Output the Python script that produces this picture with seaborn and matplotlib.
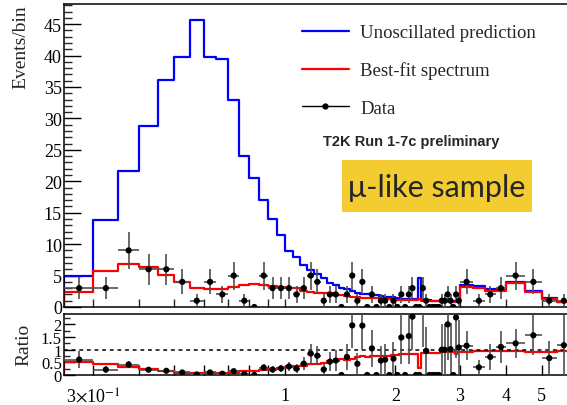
import numpy as np
import pandas as pd
import matplotlib
matplotlib.use("Agg")
import matplotlib.pyplot as plt
import seaborn as sns
from matplotlib.lines import Line2D
from matplotlib.patches import Rectangle
from matplotlib.ticker import FixedLocator, FixedFormatter, NullFormatter, MultipleLocator

# Reconstructed neutrino energy bin edges (GeV)
edges = [0.25, 0.30, 0.35, 0.40, 0.45, 0.50, 0.55, 0.60, 0.65, 0.70, 0.75,
         0.80, 0.85, 0.90, 0.95, 1.00, 1.05, 1.10, 1.15, 1.20, 1.25, 1.30,
         1.35, 1.40, 1.45, 1.50, 1.55, 1.60, 1.65, 1.70, 1.75, 1.80, 1.85,
         1.90, 1.95, 2.00, 2.05, 2.10, 2.15, 2.20, 2.25, 2.30, 2.35, 2.40,
         2.45, 2.50, 2.55, 2.60, 2.65, 2.70, 2.75, 2.80, 2.85, 2.90, 2.95,
         3.00, 3.25, 3.50, 3.75, 4.00, 4.50, 5.00, 5.50, 6.00]

# Unoscillated prediction (events / bin)
unoscillated = [4.9, 13.9, 21.7, 28.8, 36.1, 39.7, 45.6, 39.7, 39.4, 33.0,
                24.0, 20.5, 17.0, 14.0, 11.5, 8.9, 8.0, 6.7, 5.9, 5.25,
                4.6, 3.8, 3.5, 3.1, 2.8, 2.55, 2.25, 2.05, 2.0, 1.9,
                1.85, 1.75, 1.65, 1.6, 1.55, 1.45, 1.35, 1.32, 1.3, 1.3,
                1.25, 4.6, 1.15, 1.05, 1.05, 1.0, 1.0, 1.0, 1.0, 1.0,
                1.0, 0.98, 0.95, 0.88, 0.92,
                3.45, 3.3, 2.8, 2.7, 4.0, 2.55, 1.5, 0.85]

# Best-fit oscillated spectrum (events / bin)
best_fit = [2.45, 5.8, 6.9, 6.4, 5.15, 3.9, 3.0, 2.8, 2.9, 3.2,
            3.5, 3.6, 3.5, 3.3, 3.15, 2.95, 2.95, 2.5, 2.45, 2.25,
            2.2, 2.15, 1.95, 1.9, 1.7, 1.65, 1.6, 1.5, 1.45, 1.4,
            1.38, 1.32, 1.26, 1.22, 1.2, 1.14, 1.12, 1.1, 1.08, 1.08,
            1.04, 1.3, 1.0, 0.98, 0.92, 0.88, 0.88, 0.88, 0.9, 0.9,
            0.9, 0.88, 0.86, 0.74, 0.84,
            3.2, 3.1, 2.6, 2.55, 3.8, 2.35, 1.35, 0.8]

# Observed events per bin
observed = [3, 3, 9, 6, 6, 4, 1, 4, 2, 5,
            1, 0, 5, 3, 3, 3, 2, 3, 5, 4,
            1, 2, 2, 0, 2, 5, 1, 4, 0, 2,
            0, 1, 1, 0, 1, 0, 2, 0, 2, 3,
            0, 0, 3, 1, 0, 0, 0, 0, 1, 1,
            2, 1, 0, 2, 1,
            4, 1, 2, 3, 5, 4, 1, 1]

x_tick_values = [0.3, 1, 2, 3, 4, 5, 6]
x_tick_labels = [r"3$\times$10$^{-1}$", "1", "2", "3", "4", "5", "6"]
x_minor_ticks = [0.4, 0.5, 0.6, 0.7, 0.8, 0.9, 7, 8, 9]

lo = np.array(edges[:-1])
hi = np.array(edges[1:])
centre = 0.5 * (lo + hi)
unosc = np.array(unoscillated)
bf = np.array(best_fit)
obs = np.array(observed, dtype=float)


def outline(values):
    """Histogram outline rising from zero at the first edge."""
    return pd.DataFrame({"E": [edges[0]] + list(edges),
                         "N": [0.0] + list(values) + [values[-1]]})


sns.set_theme(style="ticks")
plt.rcParams["font.family"] = ["Liberation Serif", "DejaVu Serif"]
plt.rcParams["mathtext.fontset"] = "stix"
plt.rcParams["axes.linewidth"] = 1.1

W, H = 567, 406
fig = plt.figure(figsize=(W / 100, H / 100), dpi=100)
fig.patch.set_facecolor("white")


def fx(px):
    return px / W


def fy(py):
    return 1 - py / H


ax = fig.add_axes([fx(64), fy(308), 588 / W, 303 / H])
axr = fig.add_axes([fx(64), fy(376), 588 / W, 61 / H])

for a in (ax, axr):
    a.set_xscale("log")
    a.set_facecolor("white")
    for s in a.spines.values():
        s.set_color("black")
        s.set_linewidth(1.1)

# ---- main panel ----
sns.lineplot(data=outline(unosc), x="E", y="N", ax=ax, estimator=None, sort=False,
             drawstyle="steps-post", color="#0000ff", lw=1.6)
sns.lineplot(data=outline(bf), x="E", y="N", ax=ax, estimator=None, sort=False,
             drawstyle="steps-post", color="#ff0000", lw=1.6)

nz = obs > 0
ax.errorbar(centre[nz], obs[nz], yerr=np.sqrt(obs[nz]),
            xerr=[centre[nz] - lo[nz], hi[nz] - centre[nz]],
            fmt="none", ecolor="#505050", elinewidth=1.2, capsize=0, zorder=4)
pts = pd.DataFrame({"E": centre, "N": obs})
sns.scatterplot(data=pts, x="E", y="N", ax=ax, color="black", s=20,
                edgecolor="none", zorder=5, legend=False)

ax.set_xlim(0.25, 10)
ax.set_ylim(0, 48.2)
ax.yaxis.set_major_locator(MultipleLocator(5))
ax.yaxis.set_minor_locator(MultipleLocator(1))
ax.xaxis.set_major_locator(FixedLocator(x_tick_values))
ax.xaxis.set_minor_locator(FixedLocator(x_minor_ticks))
ax.xaxis.set_major_formatter(NullFormatter())
ax.xaxis.set_minor_formatter(NullFormatter())
ax.tick_params(axis="y", which="major", direction="in", length=12, width=1.0,
               labelsize=13, pad=1.5, colors="black")
ax.tick_params(axis="y", which="minor", direction="in", length=6, width=1.0)
ax.tick_params(axis="x", which="both", direction="in", length=6, width=1.0)
ax.set_xlabel("")
ax.set_ylabel("")

# ---- ratio panel ----
ratio_fit = bf / unosc
ratio_obs = obs / unosc
sns.lineplot(data=outline(ratio_fit), x="E", y="N", ax=axr, estimator=None, sort=False,
             drawstyle="steps-post", color="#ff0000", lw=1.6)
axr.axhline(1.0, color="black", lw=1.1, ls=(0, (2.5, 2.5)), zorder=3)
axr.errorbar(centre[nz], ratio_obs[nz], yerr=np.sqrt(obs[nz]) / unosc[nz],
             xerr=[centre[nz] - lo[nz], hi[nz] - centre[nz]],
             fmt="none", ecolor="#505050", elinewidth=1.2, capsize=0, zorder=4)
rpts = pd.DataFrame({"E": centre, "R": ratio_obs})
sns.scatterplot(data=rpts, x="E", y="R", ax=axr, color="black", s=20,
                edgecolor="none", zorder=5, legend=False)

axr.set_xlim(0.25, 10)
axr.set_ylim(0, 2.41)
axr.yaxis.set_major_locator(FixedLocator([0, 0.5, 1, 1.5, 2]))
axr.yaxis.set_major_formatter(FixedFormatter(["0", "0.5", "1", "1.5", "2"]))
axr.yaxis.set_minor_locator(MultipleLocator(0.25))
axr.xaxis.set_major_locator(FixedLocator(x_tick_values))
axr.xaxis.set_major_formatter(FixedFormatter(x_tick_labels))
axr.xaxis.set_minor_locator(FixedLocator(x_minor_ticks))
axr.xaxis.set_minor_formatter(NullFormatter())
axr.tick_params(axis="y", which="major", direction="in", length=8, width=1.0,
                labelsize=12, pad=1.5, colors="black")
axr.tick_params(axis="y", which="minor", direction="in", length=4, width=1.0)
axr.tick_params(axis="x", which="both", direction="in", length=7, width=1.0,
                labelsize=13, pad=9, colors="black")
axr.set_xlabel("")
axr.set_ylabel("")

# ---- axis titles ----
fig.text(fx(21), fy(5), "Events/bin", rotation=90, ha="center", va="top", fontsize=14)
fig.text(fx(24), fy(345), "Ratio", rotation=90, ha="center", va="center", fontsize=14)

# ---- legend ----
handles = [Line2D([], [], color="#0000ff", lw=1.6),
           Line2D([], [], color="#ff0000", lw=1.6),
           Line2D([], [], color="black", lw=1.0, marker="o", markersize=3.5)]
labels = ["Unoscillated prediction", "Best-fit spectrum", "Data"]
ax.legend(handles, labels, loc="upper left", bbox_to_anchor=(fx(302), fy(25)),
          bbox_transform=fig.transFigure, frameon=False, fontsize=13.5,
          handlelength=2.5, handletextpad=0.6, labelspacing=1.08,
          borderpad=0, borderaxespad=0)

fig.text(fx(411), fy(142), "T2K Run 1-7c preliminary", ha="center", va="center",
         fontsize=10.5, fontweight="bold", family=["Liberation Sans", "DejaVu Sans"])

fig.patches.append(Rectangle((fx(342), fy(213)), 190 / W, 52 / H,
                             transform=fig.transFigure, facecolor="#f2cc30",
                             edgecolor="none", zorder=1))
fig.text(fx(437), fy(188), "\u03bc-like sample", ha="center", va="center",
         fontsize=22, family=["Lato", "DejaVu Sans"], zorder=2)

fig.savefig("out.png", dpi=100)
